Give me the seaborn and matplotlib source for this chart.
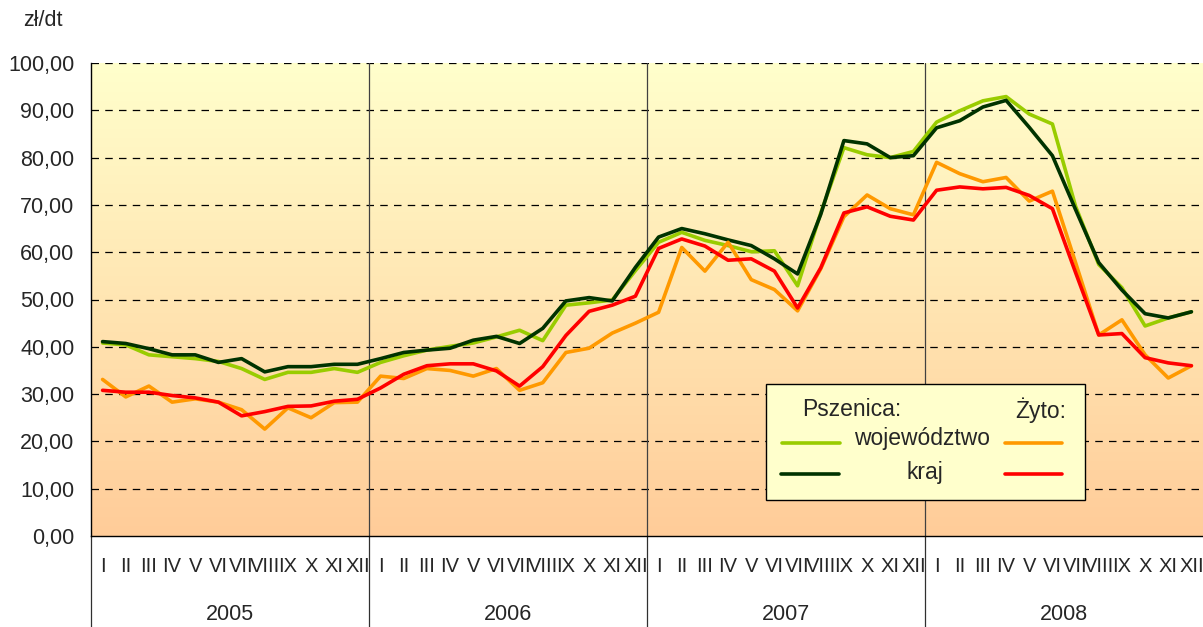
import numpy as np
import pandas as pd
import matplotlib
matplotlib.use("Agg")
import matplotlib.pyplot as plt
import matplotlib.transforms as mtransforms
from matplotlib.patches import Rectangle
from matplotlib.lines import Line2D
import seaborn as sns

# ---------------- data ----------------
years = ["2005", "2006", "2007", "2008"]
month_labels = ["I", "II", "III", "IV", "V", "VI", "VII", "VIII", "IX", "X", "XI", "XII"]

wheat_woj = [
    40.8, 40.4, 38.3, 37.9, 37.5, 36.9, 35.4, 33.1, 34.6, 34.6, 35.4, 34.6,
    36.7, 38.1, 39.3, 40.1, 40.8, 42.1, 43.5, 41.3, 48.8, 49.3, 49.9, 56.1,
    62.1, 64.2, 62.5, 61.4, 60.1, 60.3, 52.9, 68.3, 82.1, 80.6, 80.0, 81.3,
    87.5, 89.9, 92.0, 92.9, 89.2, 87.1, 69.7, 57.4, 52.5, 44.4, 46.1, 47.4]
wheat_kraj = [
    41.1, 40.7, 39.6, 38.3, 38.3, 36.7, 37.5, 34.7, 35.8, 35.8, 36.3, 36.3,
    37.5, 38.8, 39.3, 39.7, 41.4, 42.2, 40.7, 43.9, 49.7, 50.4, 49.7, 56.8,
    63.2, 65.0, 63.9, 62.6, 61.4, 58.6, 55.4, 68.0, 83.6, 82.9, 80.0, 80.4,
    86.3, 87.8, 90.7, 92.1, 86.4, 80.4, 69.0, 57.8, 52.0, 47.0, 46.1, 47.4]
rye_woj = [
    33.1, 29.4, 31.7, 28.3, 29.0, 28.3, 26.7, 22.6, 27.1, 25.0, 28.2, 28.3,
    33.8, 33.3, 35.4, 35.0, 33.8, 35.4, 30.8, 32.4, 38.8, 39.7, 42.9, 45.0,
    47.3, 61.0, 56.0, 62.1, 54.2, 52.1, 47.6, 56.5, 67.5, 72.1, 69.2, 67.9,
    79.0, 76.6, 74.9, 75.8, 70.8, 72.9, 57.8, 42.5, 45.7, 38.3, 33.4, 36.0]
rye_kraj = [
    30.8, 30.4, 30.4, 29.7, 29.2, 28.3, 25.4, 26.3, 27.4, 27.5, 28.5, 28.9,
    31.3, 34.2, 36.0, 36.4, 36.4, 34.9, 31.7, 35.8, 42.4, 47.5, 48.8, 50.7,
    60.8, 62.8, 61.3, 58.3, 58.6, 56.0, 48.2, 56.7, 68.3, 69.6, 67.6, 66.8,
    73.1, 73.8, 73.4, 73.7, 72.0, 69.2, 55.7, 42.5, 42.8, 37.7, 36.6, 36.0]

series_names = ["wheat_woj", "wheat_kraj", "rye_woj", "rye_kraj"]
series_vals = [wheat_woj, wheat_kraj, rye_woj, rye_kraj]
colors = {"wheat_woj": "#99CC00", "wheat_kraj": "#003300",
          "rye_woj": "#FF9900", "rye_kraj": "#FF0000"}

n = len(years) * len(month_labels)
rows = []
for name, vals in zip(series_names, series_vals):
    for i, v in enumerate(vals):
        rows.append({"idx": i, "value": v, "series": name})
df = pd.DataFrame(rows)

# ---------------- figure ----------------
sns.set_style("white")
plt.rcParams["font.family"] = ["Liberation Sans", "DejaVu Sans"]
FS = 15.5

W, H = 1203, 627
fig = plt.figure(figsize=(W / 100, H / 100), dpi=100)
L, R, T, B = 91, 1203, 63, 536
ax = fig.add_axes([L / W, 1 - B / H, (R - L) / W, (B - T) / H])

# gradient background
grad = np.linspace(0, 1, 256).reshape(-1, 1)
top_c = np.array([255, 255, 204]) / 255
bot_c = np.array([255, 204, 153]) / 255
img = top_c[None, None, :] * (1 - grad[:, :, None]) + bot_c[None, None, :] * grad[:, :, None]
ax.imshow(img, extent=[-0.5, n - 0.5, 0, 100], aspect="auto", zorder=0, origin="upper")

# gridlines
for yv in range(10, 101, 10):
    ax.axhline(yv, color="black", lw=0.9, ls=(0, (6, 5)), zorder=1)

# year dividers
for k in range(1, len(years)):
    ax.axvline(k * 12 - 0.5, color="#404040", lw=0.9, zorder=1)

sns.lineplot(data=df, x="idx", y="value", hue="series", hue_order=series_names,
             palette=colors, lw=2.6, legend=False, ax=ax, zorder=3)

ax.set_xlim(-0.5, n - 0.5)
ax.set_ylim(0, 100)
ax.set_xlabel("")
ax.set_ylabel("")
ax.set_yticks(range(0, 101, 10))
ax.set_yticklabels([f"{v},00" for v in range(0, 101, 10)], fontsize=FS)
ax.set_xticks(range(n))
ax.set_xticklabels(month_labels * len(years), fontsize=14.5)
ax.tick_params(axis="x", length=0, pad=15)
ax.tick_params(axis="y", length=0, pad=12)

for s in ["left", "bottom"]:
    ax.spines[s].set_color("black")
    ax.spines[s].set_linewidth(1.0)
ax.spines["top"].set_visible(False)
ax.spines["right"].set_visible(False)

# dividers in the label area
trans = mtransforms.blended_transform_factory(ax.transData, ax.transAxes)
for k in range(0, len(years)):
    xk = k * 12 - 0.5
    ax.plot([xk, xk], [0, -0.25], transform=trans, color="#303030", lw=0.9, clip_on=False)
for k, yr in enumerate(years):
    ax.text(k * 12 + 5.5, -0.165, yr, transform=trans, ha="center", va="center", fontsize=FS)

fig.text(23 / W, 1 - 21 / H, "zł/dt", fontsize=FS, ha="left", va="center")

# legend box (figure pixel coords)
def fx(x):
    return x / W
def fy(y):
    return 1 - y / H

fig.patches.append(Rectangle((fx(766), fy(500)), (1085 - 766) / W, (500 - 384) / H,
                             transform=fig.transFigure, facecolor="#FFFFCC",
                             edgecolor="black", lw=1.0, zorder=10))
LFS = 16.5
fig.text(fx(852), fy(410), "Pszenica:", fontsize=LFS, ha="center", va="center", zorder=11)
fig.text(fx(1041), fy(410), "Żyto:", fontsize=LFS, ha="center", va="center", zorder=11)
fig.text(fx(922), fy(439), "województwo", fontsize=LFS, ha="center", va="center", zorder=11)
fig.text(fx(925), fy(472), "kraj", fontsize=LFS, ha="center", va="center", zorder=11)
for (x0, x1, yy, c) in [(782, 840, 443, colors["wheat_woj"]), (781, 839, 474, colors["wheat_kraj"]),
                         (1005, 1062, 443, colors["rye_woj"]), (1005, 1062, 474, colors["rye_kraj"])]:
    fig.lines.append(Line2D([fx(x0), fx(x1)], [fy(yy), fy(yy)], transform=fig.transFigure,
                            color=c, lw=2.6, zorder=11))

fig.savefig("out.png", dpi=100)
